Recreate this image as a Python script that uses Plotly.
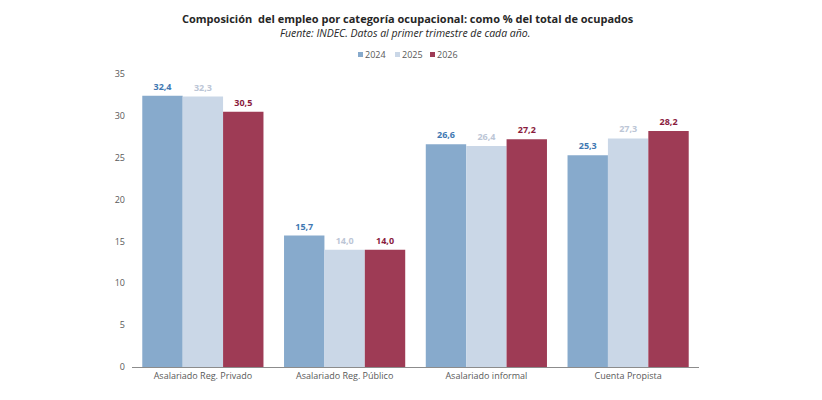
import plotly.graph_objects as go

categorias = ["Asalariado Reg. Privado", "Asalariado Reg. Público", "Asalariado informal", "Cuenta Propista"]
anios = ["2024", "2025", "2026"]
v2024 = [32.4, 15.7, 26.6, 25.3]
v2025 = [32.3, 14.0, 26.4, 27.3]
v2026 = [30.5, 14.0, 27.2, 28.2]

colores = ["#87aacc", "#cad7e7", "#9e3b55"]
colores_txt = ["#3f78b2", "#bcc6d6", "#8a1b3d"]

# area del grafico en pixeles (para ubicar titulos y leyenda)
L, R, T, B = 132, 123, 74, 33
W, H = 822 - L - R, 400 - T - B


def px_x(px):
    return (px - L) / W


def px_y(py):
    return (400 - B - py) / H


fig = go.Figure()
for nombre, vals, c, ct in zip(anios, [v2024, v2025, v2026], colores, colores_txt):
    fig.add_trace(go.Bar(
        x=categorias, y=vals, name=nombre,
        marker=dict(color=c, line_width=0),
        texttemplate="<b>%{y:.1f}</b>", textposition="outside",
        textfont=dict(color=ct, size=9, family="Open Sans"),
        cliponaxis=False,
    ))

fig.update_layout(
    width=822, height=400,
    margin=dict(l=L, r=R, t=T, b=B),
    paper_bgcolor="white", plot_bgcolor="white",
    separators=",.",
    barmode="group", bargap=0.145, bargroupgap=0,
    font=dict(family="Open Sans", size=9, color="#595959"),
    showlegend=False,
)
fig.update_xaxes(showline=True, linecolor="#8c8c8c", linewidth=1, ticks="",
                 tickfont=dict(size=9, color="#595959"), showgrid=False)
fig.update_yaxes(range=[0, 35], dtick=5, showgrid=False, zeroline=False, showline=False,
                 tickfont=dict(size=9, color="#595959"), ticklabelstandoff=6)

fig.add_annotation(text="<b>Composición  del empleo por categoría ocupacional: como % del total de ocupados</b>",
                   xref="paper", yref="paper", x=px_x(408), y=px_y(18), yanchor="middle",
                   showarrow=False, font=dict(size=11, color="#262626"))
fig.add_annotation(text="<i>Fuente: INDEC. Datos al primer trimestre de cada año.</i>",
                   xref="paper", yref="paper", x=px_x(405), y=px_y(33), yanchor="middle",
                   showarrow=False, font=dict(size=10.5, color="#262626"))

# leyenda
leyenda_x = [358, 395, 430]
for nombre, c, lx in zip(anios, colores, leyenda_x):
    fig.add_shape(type="rect", xref="paper", yref="paper",
                  x0=px_x(lx), x1=px_x(lx + 5), y0=px_y(57), y1=px_y(52),
                  fillcolor=c, line_width=0)
    fig.add_annotation(text=nombre, xref="paper", yref="paper", x=px_x(lx + 5), y=px_y(54.5),
                       xanchor="left", yanchor="middle", showarrow=False,
                       font=dict(size=9, color="#595959"))

fig.write_html("out.html", config={"displayModeBar": False},
               post_script="document.body.style.margin='0';")
